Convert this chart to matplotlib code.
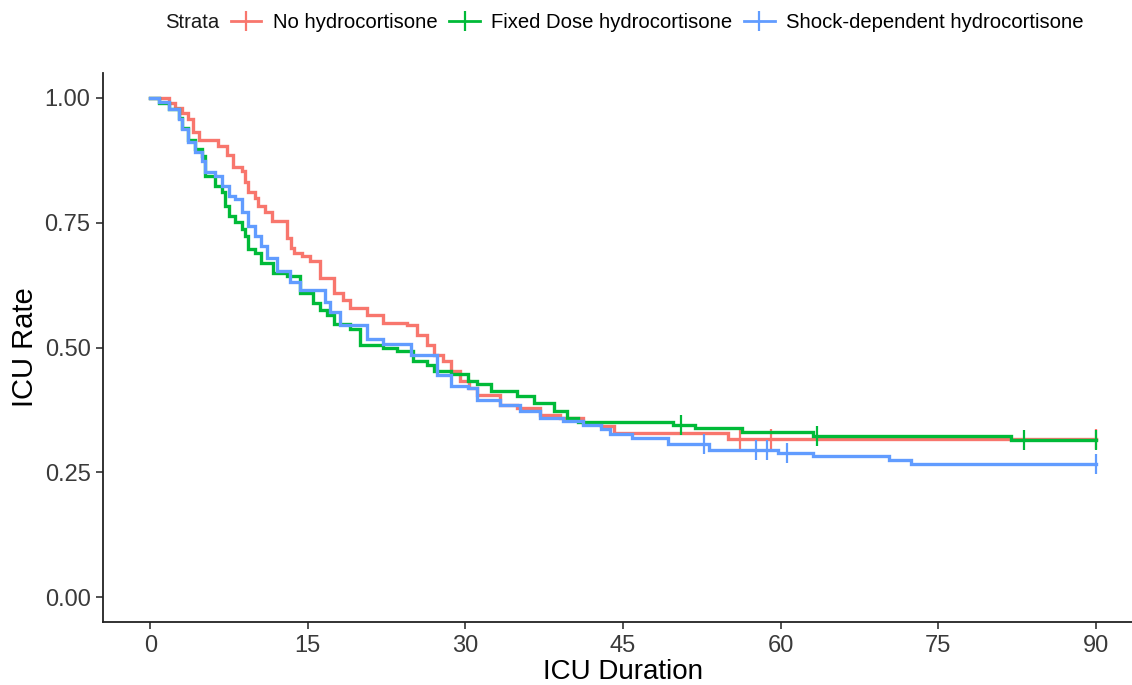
import matplotlib
matplotlib.use('Agg')
import matplotlib.pyplot as plt
from matplotlib.lines import Line2D
import numpy as np

# *************************************************************************
# Kaplan-Meier style step data (time in days, rate)

strata = ['No hydrocortisone', 'Fixed Dose hydrocortisone', 'Shock-dependent hydrocortisone']
colors = ['#F8766D', '#00BA38', '#619CFF']

no_hc_time = [0, 1.75, 2.4, 3.0, 3.6, 4.1, 4.6, 6.4, 7.3, 7.9, 8.7, 9.0, 9.35, 10.0, 10.3,
              10.9, 11.6, 13.0, 13.4, 13.7, 14.4, 15.2, 16.2, 17.5, 18.3, 19.0, 20.6, 22.2,
              24.4, 25.4, 26.3, 27.0, 27.9, 28.6, 29.5, 30.3, 31.1, 33.3, 34.9, 37.1, 39.0,
              41.2, 42.9, 44.1, 55.0]
no_hc_rate = [1.0, 0.99, 0.98, 0.97, 0.958, 0.931, 0.915, 0.903, 0.885, 0.861, 0.854, 0.831,
              0.811, 0.80, 0.784, 0.771, 0.754, 0.72, 0.70, 0.69, 0.684, 0.673, 0.64, 0.61,
              0.596, 0.58, 0.566, 0.55, 0.545, 0.525, 0.505, 0.485, 0.472, 0.452, 0.432, 0.418,
              0.405, 0.385, 0.378, 0.365, 0.358, 0.348, 0.342, 0.328, 0.317]
no_hc_censor = [56.1, 59.1, 90]

fixed_time = [0, 0.8, 1.75, 2.7, 3.0, 3.6, 4.3, 4.9, 5.2, 6.2, 6.8, 7.1, 7.45, 8.1, 8.7, 9.0,
              9.35, 10.0, 10.5, 11.7, 13.0, 14.3, 15.5, 16.2, 16.8, 17.5, 19.0, 20.0, 22.2, 23.5,
              25.0, 26.3, 27.0, 28.6, 30.2, 31.1, 32.4, 34.9, 36.5, 38.4, 39.7, 40.7, 49.8, 51.9,
              56.3, 63.1, 81.9]
fixed_rate = [1.0, 0.99, 0.978, 0.96, 0.94, 0.915, 0.898, 0.884, 0.844, 0.824, 0.811, 0.784,
              0.764, 0.751, 0.737, 0.724, 0.697, 0.69, 0.67, 0.65, 0.644, 0.61, 0.59, 0.575,
              0.565, 0.548, 0.538, 0.505, 0.498, 0.492, 0.472, 0.465, 0.452, 0.446, 0.432, 0.426,
              0.412, 0.402, 0.388, 0.372, 0.358, 0.351, 0.344, 0.338, 0.330, 0.322, 0.315]
fixed_censor = [50.5, 63.5, 83.2, 90]

shock_time = [0, 0.8, 1.75, 2.7, 3.0, 3.6, 4.3, 4.9, 5.2, 6.2, 6.8, 7.45, 8.1, 8.7, 9.35, 10.0,
              10.5, 11.1, 12.1, 13.3, 14.3, 16.6, 17.1, 18.1, 20.6, 22.2, 24.8, 27.3, 28.6, 30.2,
              31.1, 33.3, 35.2, 37.1, 39.3, 41.2, 42.9, 43.8, 45.9, 49.3, 53.2, 59.8, 63.1, 70.3,
              72.4]
shock_rate = [1.0, 0.991, 0.978, 0.958, 0.938, 0.911, 0.891, 0.874, 0.851, 0.844, 0.824, 0.804,
              0.798, 0.771, 0.744, 0.724, 0.704, 0.68, 0.653, 0.632, 0.615, 0.592, 0.572, 0.545,
              0.518, 0.508, 0.485, 0.445, 0.422, 0.418, 0.395, 0.385, 0.372, 0.358, 0.352, 0.345,
              0.336, 0.326, 0.318, 0.307, 0.295, 0.288, 0.282, 0.274, 0.266]
shock_censor = [52.7, 57.7, 58.7, 60.6, 90]

x_ticks = [0, 15, 30, 45, 60, 75, 90]
y_ticks = [0.0, 0.25, 0.50, 0.75, 1.00]
end_time = 90

# *************************************************************************
plt.rcParams['font.family'] = ['Liberation Sans', 'DejaVu Sans']

fig = plt.figure(figsize=(11.32, 6.85), dpi=100)
ax = fig.add_axes([103 / 1132, 63 / 685, 1040 / 1132, 549 / 685])

series = [(no_hc_time, no_hc_rate, no_hc_censor),
          (fixed_time, fixed_rate, fixed_censor),
          (shock_time, shock_rate, shock_censor)]

for (t, s, cens), col in zip(series, colors):
    t_full = np.array(t + [end_time])
    s_full = np.array(s + [s[-1]])
    ax.step(t_full, s_full, where='post', color=col, lw=2.4, solid_joinstyle='miter')
    # censor marks sit on the step curve
    idx = np.searchsorted(t_full, cens, side='right') - 1
    ax.plot(cens, s_full[idx], ls='none', marker='|', markersize=14, mew=1.6, color=col)

ax.set_xlim(-4.5, 94.5)
ax.set_ylim(-0.05, 1.05)
ax.set_xticks(x_ticks)
ax.set_yticks(y_ticks)
ax.set_yticklabels(['{:.2f}'.format(v) for v in y_ticks])

for side in ['top', 'right']:
    ax.spines[side].set_visible(False)
for side in ['left', 'bottom']:
    ax.spines[side].set_linewidth(1.3)
    ax.spines[side].set_color('#222222')

ax.tick_params(length=5, width=1.2, color='#333333', labelsize=17, labelcolor='#3a3a3a', pad=4)

ax.set_xlabel('ICU Duration', fontsize=20, color='black', labelpad=2)
ax.set_ylabel('ICU Rate', fontsize=21, color='black', labelpad=4)

# Legend across the top, ggplot style
fig.text(165 / 1132, 1 - 23 / 685, 'Strata', fontsize=14.6, va='center', ha='left', color='#1a1a1a')
handles = [Line2D([], [], color=c, lw=2.0, marker='|', markersize=14, mew=1.6) for c in colors]
fig.legend(handles, strata, loc='center left', bbox_to_anchor=(231 / 1132, 1 - 23 / 685),
           ncol=3, frameon=False, fontsize=14.6, handlelength=1.5, handletextpad=0.55,
           columnspacing=0.6, borderpad=0, borderaxespad=0)

plt.savefig('out.png', dpi=100)
